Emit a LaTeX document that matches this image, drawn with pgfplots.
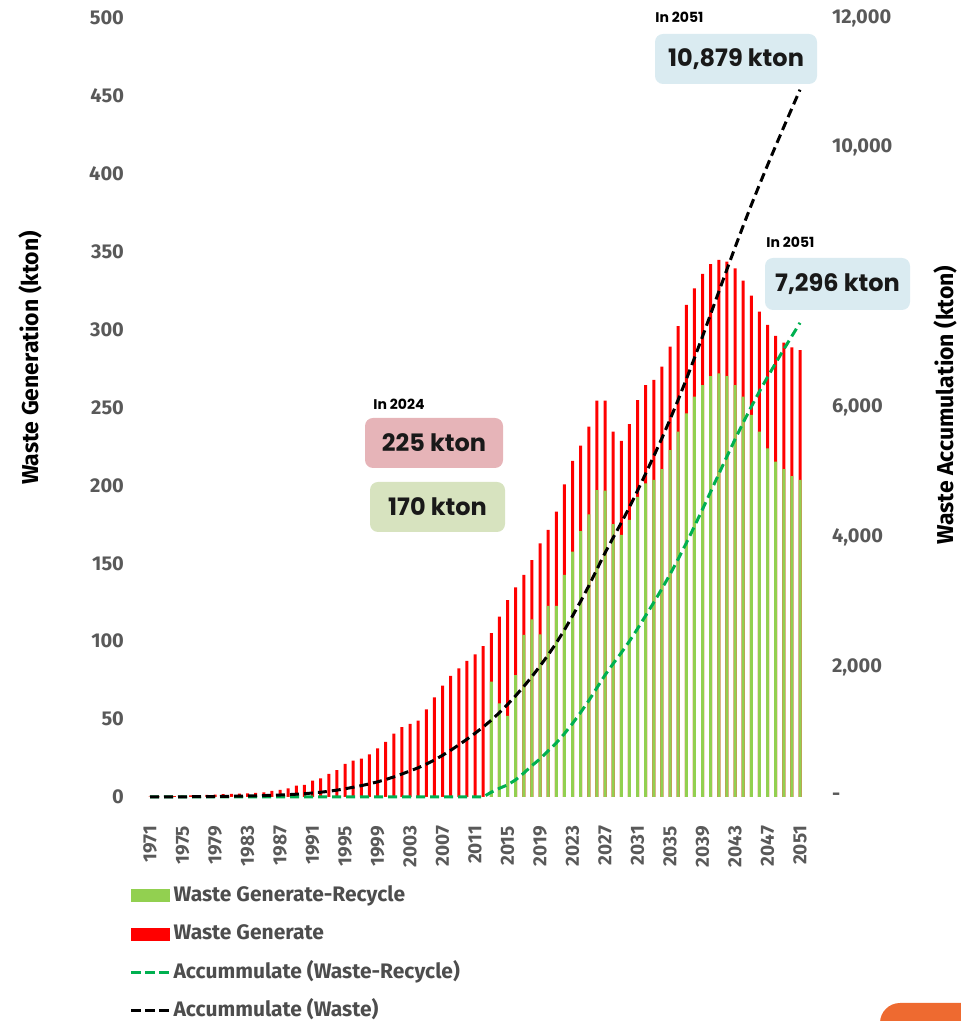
\documentclass[border=0pt]{standalone}
\usepackage{pgfplots}
\pgfplotsset{compat=1.18}
\usepackage{pgfplotstable}
\usepackage{fontspec}
\setmainfont{Fira Sans}
\newfontfamily\pop{Poppins}

\definecolor{gbar}{HTML}{92D050}
\definecolor{rbar}{HTML}{FF0000}
\definecolor{gline}{HTML}{00B050}
\definecolor{tickgray}{HTML}{595959}
\definecolor{legtext}{HTML}{4D4D4D}
\definecolor{boxred}{HTML}{E6B4B8}
\definecolor{boxgreen}{HTML}{D7E3BF}
\definecolor{boxblue}{HTML}{DAEBF1}
\definecolor{corner}{HTML}{EE6A30}

% year, waste generated, generated minus recycled, and the running sums of both
\pgfplotstableread{
year total net cumtotal cumnet
1971 0.3 0 0.3 0
1972 0.4 0 0.7 0
1973 0.5 0 1.2 0
1974 0.6 0 1.8 0
1975 0.8 0 2.6 0
1976 1.0 0 3.6 0
1977 1.2 0 4.8 0
1978 1.4 0 6.2 0
1979 1.6 0 7.8 0
1980 1.8 0 9.6 0
1981 2.0 0 11.6 0
1982 2.2 0 13.8 0
1983 2.4 0 16.2 0
1984 2.6 0 18.8 0
1985 3.0 0 21.8 0
1986 4.0 0 25.8 0
1987 4.5 0 30.3 0
1988 5.6 0 35.9 0
1989 7.3 0 43.2 0
1990 7.7 0 50.9 0
1991 10.5 0 61.4 0
1992 12.0 0 73.4 0
1993 14.8 0 88.2 0
1994 17.3 0 105.5 0
1995 21.2 0 126.7 0
1996 23.3 0 150.0 0
1997 24.6 0 174.6 0
1998 27.4 0 202.0 0
1999 31.2 0 233.2 0
2000 35.3 0 268.5 0
2001 40.6 0 309.1 0
2002 44.9 0 354.0 0
2003 46.9 0 400.9 0
2004 49.0 0 449.9 0
2005 56.3 0 506.2 0
2006 64.0 0 570.2 0
2007 71.5 0 641.7 0
2008 77.7 0 719.4 0
2009 82.6 0 802.0 0
2010 87.3 0 889.3 0
2011 91.6 0 980.9 0
2012 96.9 0 1077.8 0
2013 105.1 74.0 1182.9 74.0
2014 115.7 60.1 1298.6 134.1
2015 126.4 52.0 1425.0 186.1
2016 134.6 78.3 1559.6 264.4
2017 142.5 104.0 1702.1 368.4
2018 152.1 114.0 1854.2 482.4
2019 162.8 104.4 2017.0 586.8
2020 171.4 122.6 2188.4 709.4
2021 183.1 122.6 2371.5 832.0
2022 200.7 142.5 2572.2 974.5
2023 215.7 157.5 2787.9 1132.0
2024 225.5 170.7 3013.4 1302.7
2025 237.7 181.4 3251.1 1484.1
2026 254.4 197.0 3505.5 1681.1
2027 254.4 196.6 3759.9 1877.7
2028 234.5 175.2 3994.4 2052.9
2029 228.5 168.2 4222.9 2221.1
2030 239.4 177.8 4462.3 2398.9
2031 254.8 192.7 4717.1 2591.6
2032 264.4 201.3 4981.5 2792.9
2033 267.7 203.5 5249.2 2996.4
2034 276.2 210.5 5525.4 3206.9
2035 289.0 222.7 5814.4 3429.6
2036 302.3 234.5 6116.7 3664.1
2037 315.8 246.3 6432.5 3910.4
2038 326.5 256.9 6759.0 4167.3
2039 335.7 264.4 7094.7 4431.7
2040 342.1 270.2 7436.8 4701.9
2041 344.7 271.9 7781.5 4973.8
2042 343.6 270.2 8125.1 5244.0
2043 339.3 264.4 8464.4 5508.4
2044 331.4 256.9 8795.8 5765.3
2045 321.8 245.2 9117.6 6010.5
2046 311.5 234.5 9429.1 6245.0
2047 303.0 223.8 9732.1 6468.8
2048 295.9 215.2 10028.0 6684.0
2049 291.6 210.5 10319.6 6894.5
2050 288.6 206.0 10608.2 7100.5
2051 286.9 203.5 10895.1 7304.0
}\data

\begin{document}
\begin{tikzpicture}
\useasboundingbox (0,0) rectangle (480pt,510.5pt);

\pgfplotsset{
  common/.style={
    at={(75pt,112pt)}, anchor=south west,
    scale only axis, width=325pt, height=389.5pt,
    xmin=1971, xmax=2051, clip=false,
    axis line style={draw=none}, tick style={draw=none},
    scaled ticks=false,
    /pgf/number format/assume math mode=true,
    /pgf/number format/1000 sep={},
    ticklabel style={font=\fontsize{10}{12}\selectfont\bfseries, text=tickgray},
    ylabel style={font=\fontsize{11.5}{14}\selectfont\bfseries, anchor=center},
  },
  wline/.style={line width=1.5pt, dash pattern=on 4.5pt off 2.5pt},
}

% bars, left axis
\begin{axis}[common,
  ymin=0, ymax=500,
  xtick={1971,1975,...,2051},
  ytick={0,50,...,500},
  xticklabel style={rotate=90, anchor=east, xshift=-11pt,
    font=\fontsize{9.5}{11}\selectfont\bfseries},
  yticklabel style={xshift=-9.5pt},
  ylabel={Waste Generation (kton)},
  ylabel style={at={(axis description cs:-0.1846,0.5636)}},
]
\addplot[ybar, bar width=1.5pt, bar shift=0pt, draw=none, fill=rbar]
  table[x=year, y=total] {\data};
\addplot[ybar, bar width=1.5pt, bar shift=0pt, draw=none, fill=gbar]
  table[x=year, y=net] {\data};
\end{axis}

% accumulation lines, right axis
\begin{axis}[common,
  ymin=0, ymax=12000,
  axis x line=none, axis y line*=right,
  ytick={0,2000,4000,6000,10000,12000},
  yticklabels={-,{2,000},{4,000},{6,000},{10,000},{12,000}},
  yticklabel style={xshift=12.5pt},
  ylabel={Waste Accumulation (kton)},
  ylabel style={at={(axis description cs:1.223,0.503)}},
  legend cell align=left,
  legend style={at={(axis description cs:-0.032,-0.108)}, anchor=north west,
    draw=none, fill=none, inner sep=0pt, row sep=5.2pt,
    font=\fontsize{10.5}{12}\selectfont\bfseries, text=legtext,
    nodes={text height=8pt, text depth=2pt, inner ysep=2pt, inner xsep=1.5pt}},
]
\addlegendimage{legend image code/.code={\fill[gbar] (0pt,-3pt) rectangle (19pt,3pt);}}
\addlegendentry{Waste Generate-Recycle}
\addlegendimage{legend image code/.code={\fill[rbar] (0pt,-3pt) rectangle (19pt,3pt);}}
\addlegendentry{Waste Generate}
\addlegendimage{legend image code/.code={\draw[gline, line width=1.5pt, dash pattern=on 4.8pt off 2.2pt] (0pt,0pt) -- (19pt,0pt);}}
\addlegendentry{Accummulate (Waste-Recycle)}
\addlegendimage{legend image code/.code={\draw[black, line width=1.5pt, dash pattern=on 4.8pt off 2.2pt] (0pt,0pt) -- (19pt,0pt);}}
\addlegendentry{Accummulate (Waste)}

\addplot[gline, wline, forget plot] table[x=year, y=cumnet] {\data};
\addplot[black, wline, forget plot] table[x=year, y=cumtotal] {\data};
\end{axis}

% callouts
\tikzset{callout/.style={rounded corners=4pt, inner sep=0pt,
    font=\pop\fontsize{12}{14}\selectfont\bfseries, text=black!90},
  small/.style={anchor=west, inner sep=0pt, font=\pop\fontsize{7}{8}\selectfont\bfseries}}
\node[small] at (186.5pt,308.5pt) {In 2024};
\node[callout, fill=boxred, minimum width=69pt, minimum height=25pt] at (217pt,289pt) {225 kton};
\node[callout, fill=boxgreen, minimum width=67.5pt, minimum height=25pt] at (218.75pt,257pt) {170 kton};
\node[small] at (327.5pt,502pt) {In 2051};
\node[callout, fill=boxblue, minimum width=81pt, minimum height=25pt] at (368pt,481pt) {10,879 kton};
\node[small] at (383pt,389.5pt) {In 2051};
\node[callout, fill=boxblue, minimum width=72.5pt, minimum height=26pt] at (418.75pt,368.5pt) {7,296 kton};

\fill[corner, rounded corners=10pt] (440pt,-20pt) rectangle (500pt,9pt);
\end{tikzpicture}
\end{document}
